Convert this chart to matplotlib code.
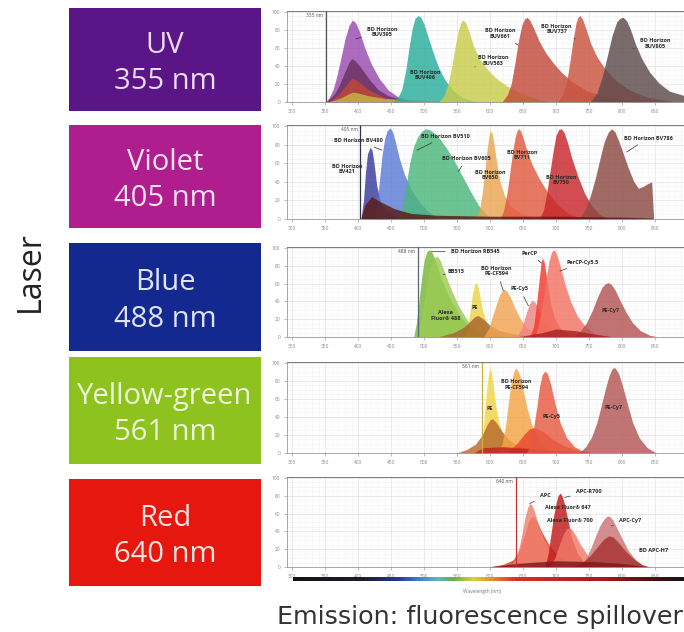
import matplotlib.pyplot as plt
from matplotlib.patches import Rectangle
from matplotlib.colors import LinearSegmentedColormap
import numpy as np

plt.rcParams['font.family'] = ['Open Sans', 'DejaVu Sans']

W, H = 684, 632

# laser boxes
laser_names = ['UV', 'Violet', 'Blue', 'Yellow-green', 'Red']
laser_nm = ['355 nm', '405 nm', '488 nm', '561 nm', '640 nm']
box_colors = ['#5a1687', '#b01d8e', '#14298f', '#8dc21f', '#e5170f']
text_colors = ['#eadcf3', '#f7e2f0', '#dfe3f6', '#eef6d8', '#fbe4df']
# laser line position
laser_line = [351, 403, 490, 587, 639]
line_colors = ['#555555', '#333344', '#556677', '#c8b040', '#c83030']

# ---- UV panel spectra (wavelength knots, relative intensity)
uv_x = [
    [350, 356, 362, 368, 374, 380, 386, 391, 396, 402, 410, 420, 432, 446, 462, 490],
    [352, 365, 372, 380, 386, 390, 395, 402, 410, 418, 430, 445, 470, 500],
    [355, 370, 380, 386, 390, 395, 405, 415, 425, 440, 460, 490],
    [355, 375, 385, 392, 400, 415, 440, 480, 560, 680],
    [452, 460, 466, 472, 477, 482, 486, 491, 495, 500, 506, 514, 522, 532, 544, 558, 580],
    [522, 530, 536, 542, 547, 552, 556, 559, 563, 568, 575, 584, 595, 608, 625, 645, 668, 690],
    [618, 626, 632, 638, 643, 648, 652, 656, 660, 666, 674, 684, 695, 708, 725, 748, 780, 830],
    [702, 710, 716, 721, 726, 730, 733, 736, 740, 745, 752, 762, 775, 792, 812, 840, 880],
    [752, 762, 770, 778, 785, 792, 797, 802, 807, 813, 820, 830, 842, 856, 872, 895],
]
uv_y = [
    [0, 5, 14, 30, 50, 70, 85, 91, 88, 78, 60, 42, 26, 13, 5, 0],
    [0, 10, 20, 34, 44, 48, 46, 40, 32, 24, 14, 7, 2, 0],
    [0, 8, 17, 23, 26, 25, 20, 14, 10, 5, 2, 0],
    [0, 5, 9, 11, 10, 7, 4, 2, 1, 0],
    [0, 5, 14, 35, 60, 82, 93, 96, 94, 86, 72, 54, 38, 24, 13, 5, 0],
    [0, 7, 20, 40, 62, 80, 89, 91, 88, 78, 62, 48, 37, 27, 18, 10, 4, 0],
    [0, 8, 20, 45, 68, 85, 92, 94, 91, 82, 68, 55, 44, 33, 22, 12, 5, 0],
    [0, 8, 22, 45, 70, 87, 94, 96, 92, 82, 66, 50, 36, 23, 13, 5, 0],
    [0, 10, 28, 52, 74, 89, 93, 94, 90, 80, 65, 48, 33, 21, 12, 7],
]
uv_colors = ['#9a4cb0', '#6a3060', '#c04838', '#c8b840', '#2aae9c',
             '#c9cc4a', '#c24a3c', '#c9543e', '#5d4a4c']
uv_labels = ['BD Horizon\nBUV395', 'BD Horizon\nBUV496', 'BD Horizon\nBUV563',
             'BD Horizon\nBUV661', 'BD Horizon\nBUV737', 'BD Horizon\nBUV805']
uv_label_xy = [(436, 78), (501, 30), (605, 46), (615, 76), (701, 81), (850, 65)]
uv_label_tip = [(396, 70), None, (577, 39), (643, 63), (729, 70), (817, 59)]

# ---- Violet panel
vi_x = [
    [404, 408, 411, 414, 418, 421, 424, 428, 435, 450, 470],
    [424, 428, 432, 436, 440, 444, 448, 452, 456, 462, 470, 480, 492, 505, 520],
    [462, 468, 473, 478, 484, 490, 496, 502, 508, 516, 525, 535, 546, 558, 570, 582, 594, 605],
    [578, 584, 588, 592, 595, 598, 600, 603, 606, 610, 615, 622, 632, 650, 680],
    [615, 620, 625, 630, 634, 638, 641, 643, 646, 650, 656, 664, 674, 686, 700, 718, 740],
    [675, 681, 686, 691, 696, 700, 704, 708, 712, 717, 724, 733, 743, 754, 766, 780],
    [735, 744, 752, 760, 767, 773, 779, 784, 789, 795, 802, 810, 818, 825, 832, 839, 845, 848],
    [404, 410, 420, 435, 455, 480, 520, 600, 700, 800, 845, 848],
]
vi_y = [
    [0, 20, 50, 70, 77, 74, 60, 36, 15, 5, 0],
    [0, 12, 40, 68, 86, 95, 98, 94, 84, 66, 48, 32, 19, 9, 0],
    [0, 15, 38, 60, 78, 88, 94, 97, 96, 92, 85, 75, 62, 46, 30, 15, 5, 0],
    [0, 10, 28, 52, 72, 88, 95, 92, 80, 60, 40, 25, 13, 5, 0],
    [0, 8, 25, 50, 72, 88, 95, 97, 95, 87, 73, 58, 44, 30, 17, 6, 0],
    [0, 10, 28, 52, 75, 90, 96, 97, 93, 83, 65, 46, 28, 14, 5, 0],
    [0, 10, 25, 45, 66, 83, 93, 97, 94, 84, 70, 54, 40, 33, 35, 38, 40, 0],
    [0, 15, 24, 18, 11, 6, 4, 3, 3, 2, 1, 0],
]
vi_colors = ['#3b3a9c', '#5b7bd6', '#4cb67c', '#e9a553', '#e15a40',
             '#c8262b', '#8c4a43', '#5a1a12']
vi_labels = ['BD Horizon\nBV421', 'BD Horizon BV480', 'BD Horizon BV510',
             'BD Horizon BV605', 'BD Horizon\nBV650', 'BD Horizon\nBV711',
             'BD Horizon\nBV750', 'BD Horizon BV786']
vi_label_xy = [(383, 54), (400, 84), (532, 89), (564, 65), (600, 47),
               (648, 69), (708, 42), (840, 87)]
vi_label_tip = [None, (436, 74), (489, 74), (552, 51), None, None, None, (807, 72)]

# ---- Blue panel
bl_x = [
    [484, 488, 492, 496, 500, 504, 508, 512, 517, 523, 530, 540, 552, 566, 585, 600],
    [490, 496, 502, 508, 514, 518, 521, 525, 531, 540, 552, 566, 580, 595, 605],
    [562, 566, 570, 573, 576, 578, 581, 584, 588, 594, 602, 612, 625],
    [520, 545, 560, 570, 577, 582, 590, 600, 615, 640, 680, 720],
    [590, 598, 604, 610, 615, 620, 625, 631, 638, 646, 656, 668, 685],
    [640, 648, 654, 659, 663, 667, 672, 678, 686, 695, 705],
    [660, 666, 670, 674, 677, 679, 682, 686, 691, 698, 708, 720, 735],
    [668, 674, 680, 685, 689, 693, 696, 699, 703, 708, 714, 722, 732, 744, 758, 775],
    [725, 736, 746, 755, 763, 770, 775, 779, 784, 790, 797, 806, 816, 828, 842, 855],
    [640, 680, 700, 730, 760, 790],
]
bl_y = [
    [0, 15, 40, 66, 86, 96, 98, 95, 86, 72, 58, 42, 27, 13, 3, 0],
    [0, 22, 52, 76, 88, 90, 90, 85, 72, 55, 35, 18, 8, 2, 0],
    [0, 10, 30, 48, 58, 61, 58, 48, 32, 16, 6, 2, 0],
    [0, 5, 11, 18, 23, 24, 20, 13, 7, 3, 1, 0],
    [0, 10, 24, 38, 48, 54, 52, 44, 32, 20, 10, 4, 0],
    [0, 10, 25, 36, 41, 40, 34, 24, 13, 5, 0],
    [0, 12, 35, 62, 82, 89, 84, 65, 40, 20, 8, 3, 0],
    [0, 15, 40, 65, 84, 95, 98, 96, 88, 75, 58, 40, 24, 12, 4, 0],
    [0, 6, 16, 30, 45, 56, 60, 61, 59, 52, 41, 28, 16, 7, 2, 0],
    [0, 5, 9, 7, 3, 0],
]
bl_colors = ['#78b836', '#9ccb55', '#ecd544', '#a8652e', '#f2a452',
             '#f08482', '#f2392e', '#f27464', '#b45454', '#a82222']
bl_labels = ['BD Horizon RB545', 'BB515', 'PE', 'BD Horizon\nPE-CF594',
             'PE-Cy5', 'PerCP', 'PerCP-Cy5.5', 'Alexa\nFluor® 488', 'PE-Cy7']
bl_label_xy = [(577, 96), (549, 74), (577, 33), (610, 74), (645, 54),
               (660, 94), (741, 84), (532, 24), (782, 30)]
bl_label_tip = [(511, 96), (529, 70), None, (620, 52), (658, 35),
                (678, 83), (706, 74), None, None]

# ---- Yellow-green panel
yg_x = [
    [585, 589, 592, 595, 598, 600, 602, 605, 609, 614, 621, 630, 642, 660],
    [549, 565, 578, 588, 595, 600, 604, 610, 618, 628, 642, 660, 690],
    [612, 618, 623, 627, 631, 635, 638, 641, 645, 650, 656, 663, 672, 684, 700],
    [625, 640, 652, 660, 668, 680, 695, 712, 735, 760],
    [575, 590, 620, 660, 700, 750],
    [655, 661, 666, 671, 675, 679, 683, 687, 692, 698, 706, 716, 728, 745],
    [735, 745, 754, 762, 769, 775, 780, 784, 787, 790, 795, 801, 808, 816, 826, 838, 852],
]
yg_y = [
    [0, 20, 48, 74, 90, 94, 90, 74, 50, 32, 18, 9, 4, 0],
    [0, 4, 10, 20, 31, 37, 38, 33, 24, 15, 8, 3, 0],
    [0, 10, 28, 52, 74, 88, 94, 93, 86, 70, 50, 32, 17, 6, 0],
    [0, 10, 21, 27, 28, 24, 15, 8, 3, 0],
    [0, 6, 7, 5, 3, 0],
    [0, 10, 28, 52, 74, 87, 91, 88, 76, 56, 34, 17, 7, 0],
    [0, 7, 18, 34, 54, 72, 85, 92, 95, 94, 88, 74, 55, 34, 17, 6, 0],
]
yg_colors = ['#f1d444', '#b86a30', '#f5a445', '#e8452f', '#c22222',
             '#e65a42', '#b45656']
yg_labels = ['PE', 'BD Horizon\nPE-CF594', 'PE-Cy5', 'PE-Cy7']
yg_label_xy = [(600, 49), (640, 76), (693, 41), (787, 50)]
yg_label_tip = [None, None, None, None]

# ---- Red panel
rd_x = [
    [597, 620, 635, 645, 652, 658, 662, 665, 668, 673, 680, 690, 702, 720, 745],
    [630, 638, 644, 649, 653, 657, 660, 663, 667, 673, 681, 692, 706, 722, 735],
    [683, 688, 692, 696, 700, 703, 706, 709, 713, 718, 724, 732, 742, 752, 762],
    [690, 698, 705, 711, 716, 720, 724, 730, 738, 748, 760, 775],
    [735, 744, 752, 760, 767, 773, 777, 781, 786, 792, 800, 810, 822, 835],
    [725, 740, 752, 763, 772, 780, 786, 794, 804, 816, 830, 842],
    [597, 640, 700, 760, 800, 845],
]
rd_y = [
    [0, 3, 8, 20, 36, 50, 56, 57, 55, 48, 37, 24, 13, 5, 0],
    [0, 8, 22, 40, 56, 67, 71, 70, 63, 48, 32, 18, 8, 3, 0],
    [0, 15, 36, 56, 72, 80, 83, 80, 70, 52, 32, 16, 6, 2, 0],
    [0, 10, 25, 37, 43, 44, 42, 35, 24, 13, 5, 0],
    [0, 8, 20, 35, 47, 54, 57, 57, 53, 44, 32, 18, 7, 0],
    [0, 5, 13, 23, 31, 35, 34, 28, 19, 10, 3, 0],
    [0, 4, 7, 6, 4, 0],
]
rd_colors = ['#e2361f', '#f08272', '#c2191a', '#f27a6a', '#cc7474',
             '#a83232', '#801818']
rd_labels = ['APC', 'APC-R700', 'Alexa Fluor® 647', 'Alexa Fluor® 700',
             'APC-Cy7', 'BD APC-H7']
rd_label_xy = [(683, 80), (749, 85), (718, 67), (721, 52), (812, 52), (847, 19)]
rd_label_tip = [(660, 71), (713, 78), None, None, (784, 46), None]

panels_x = [uv_x, vi_x, bl_x, yg_x, rd_x]
panels_y = [uv_y, vi_y, bl_y, yg_y, rd_y]
panels_c = [uv_colors, vi_colors, bl_colors, yg_colors, rd_colors]
panels_lab = [uv_labels, vi_labels, bl_labels, yg_labels, rd_labels]
panels_lxy = [uv_label_xy, vi_label_xy, bl_label_xy, yg_label_xy, rd_label_xy]
panels_tip = [uv_label_tip, vi_label_tip, bl_label_tip, yg_label_tip, rd_label_tip]

box_px = [(8, 111), (125, 228), (243, 351), (357, 464), (479, 586)]
panel_px = [(11, 102), (125, 219), (247, 337), (362, 453), (477, 567)]

fig = plt.figure(figsize=(W / 100, H / 100), dpi=100)

# coloured laser boxes
for i in range(5):
    top, bot = box_px[i]
    fig.patches.append(Rectangle((69 / W, 1 - bot / H), 192 / W, (bot - top) / H,
                                 transform=fig.transFigure, facecolor=box_colors[i],
                                 edgecolor='none', figure=fig))
    fig.text(165 / W, 1 - ((top + bot) / 2 + 4) / H, laser_names[i] + '\n' + laser_nm[i],
             ha='center', va='center', fontsize=21, color=text_colors[i],
             linespacing=1.32)

fig.text(30 / W, 1 - 272 / H, 'Laser', rotation=90, ha='center', va='center',
         fontsize=23, color='#222222')

# spectra panels
for i in range(5):
    top, bot = panel_px[i]
    ax = fig.add_axes([287 / W, 1 - bot / H, (684 - 287) / W, (bot - top) / H])
    ax.set_xlim(292, 894)
    ax.set_ylim(0, 101)
    ax.set_xticks(range(300, 900, 50))
    ax.set_xticks(range(300, 900, 10), minor=True)
    ax.set_yticks(range(0, 101, 20))
    ax.set_yticks(range(0, 101, 5), minor=True)
    ax.grid(which='major', color='#e2e2e2', lw=0.5)
    ax.grid(which='minor', color='#f1f1f1', lw=0.4)
    ax.set_axisbelow(True)
    ax.tick_params(labelsize=3.5, labelcolor='#888888', length=2, width=0.4,
                   color='#888888', pad=3)
    ax.tick_params(which='minor', length=0)
    for s in ax.spines.values():
        s.set_color('#999999')
        s.set_linewidth(0.6)
    ax.spines['top'].set_color('#666666')
    ax.spines['right'].set_visible(False)

    for xs, ys, c in zip(panels_x[i], panels_y[i], panels_c[i]):
        ax.fill_between(xs, ys, 0, color=c, alpha=0.82, lw=0)

    ax.axvline(laser_line[i], color=line_colors[i], lw=0.9)
    ax.text(laser_line[i] - 4, 96, laser_nm[i], ha='right', va='center',
            fontsize=3.5, color='#555555')

    for lab, xy, tip in zip(panels_lab[i], panels_lxy[i], panels_tip[i]):
        if tip is None:
            ax.text(xy[0], xy[1], lab, ha='center', va='center', fontsize=4,
                    color='#2a2a2a', fontweight='bold', linespacing=1.1)
        else:
            ax.annotate(lab, xy=tip, xytext=xy, ha='center', va='center',
                        fontsize=4, color='#2a2a2a', fontweight='bold',
                        linespacing=1.1,
                        arrowprops=dict(arrowstyle='-', color='#333333', lw=0.5,
                                        shrinkA=2, shrinkB=0))

# wavelength rainbow bar
cax = fig.add_axes([293 / W, 1 - 581 / H, (684 - 293) / W, 4 / H])
spec = LinearSegmentedColormap.from_list('spec', [
    (0.0, '#151515'), (0.18, '#1c1c30'), (0.27, '#26389a'), (0.32, '#3f7fd0'),
    (0.37, '#57b8c8'), (0.41, '#62b04a'), (0.46, '#d8d23c'), (0.51, '#eb8a2c'),
    (0.57, '#d8321e'), (0.8, '#a5191a'), (0.92, '#4d1010'), (1.0, '#151515')])
cax.imshow(np.linspace(0, 1, 256)[None, :], aspect='auto', cmap=spec)
cax.set_axis_off()

fig.text(482 / W, 1 - 591 / H, 'Wavelength (nm)', ha='center', va='center',
         fontsize=3.5, color='#777777')
fig.text(480 / W, 1 - 617 / H, 'Emission: fluorescence spillover', ha='center',
         va='center', fontsize=18.3, color='#333333', family='DejaVu Sans')

fig.savefig('out.png', dpi=100)
